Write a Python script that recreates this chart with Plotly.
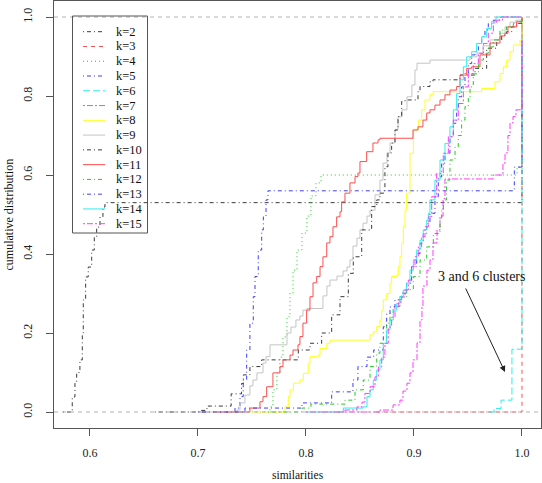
import plotly.graph_objects as go

# ---------------- data ----------------
k2_x = [0.575, 0.5836, 0.5861, 0.5877, 0.5907, 0.5929, 0.5938, 0.5960, 0.5984, 0.6016, 0.6040, 0.6062, 0.6093, 0.6120, 0.6139, 1.0]
k2_y = [0.0, 0.038, 0.073, 0.100, 0.132, 0.200, 0.284, 0.342, 0.367, 0.410, 0.443, 0.468, 0.494, 0.519, 0.530, 1.0]

k3_x = [0.865, 1.0]
k3_y = [0.0, 1.0]

k4_x = [0.735, 0.7667, 0.7694, 0.7731, 0.7759, 0.7787, 0.7824, 0.7852, 0.7880, 0.7917, 0.7963, 0.8009, 0.8046, 0.8093, 0.8139, 0.9954, 1.0]
k4_y = [0.0, 0.013, 0.056, 0.099, 0.139, 0.190, 0.241, 0.301, 0.359, 0.410, 0.453, 0.496, 0.547, 0.580, 0.600, 0.620, 1.0]

k5_x = [0.700, 0.7343, 0.7389, 0.7419, 0.7451, 0.7481, 0.7512, 0.7528, 0.7558, 0.7590, 0.7605, 0.7630, 0.7648, 0.9929, 1.0]
k5_y = [0.0, 0.010, 0.039, 0.081, 0.157, 0.225, 0.292, 0.343, 0.410, 0.461, 0.494, 0.537, 0.560, 0.620, 1.0]

k6_x = [0.970, 0.9741, 0.9806, 0.9907, 1.0]
k6_y = [0.0, 0.009, 0.030, 0.159, 1.0]

k7_x = [0.825, 0.8685, 0.8806, 0.8870, 0.8898, 0.8935, 0.8963, 0.8991, 0.9028, 0.9056, 0.9074, 0.9083, 0.9120, 0.9148, 0.9176, 0.9213, 0.9241, 0.9269, 0.9287, 0.9731, 0.9824, 0.9843, 0.9870, 0.9889, 0.9917, 0.9944, 1.0]
k7_y = [0.0, 0.005, 0.018, 0.030, 0.053, 0.073, 0.099, 0.132, 0.175, 0.233, 0.268, 0.319, 0.359, 0.385, 0.428, 0.461, 0.496, 0.540, 0.590, 0.600, 0.630, 0.656, 0.700, 0.732, 0.748, 0.765, 1.0]

k8_x = [0.750, 0.7806, 0.7836, 0.7852, 0.7883, 0.7944, 0.7975, 0.8021, 0.8037, 0.8114, 0.8130, 0.8192, 0.8222, 0.8593, 0.8623, 0.8655, 0.8685, 0.8701, 0.8716, 0.8747, 0.8778, 0.8793, 0.8840, 0.8855, 0.8870, 0.8886, 0.8901, 0.8917, 0.8932, 0.8963, 0.8994, 0.9040, 0.9071, 0.9102, 0.9148, 0.9179, 0.9627, 0.9750, 0.9796, 0.9827, 0.9858, 0.9889, 0.9920, 0.9981, 1.0]
k8_y = [0.0, 0.013, 0.039, 0.056, 0.073, 0.081, 0.098, 0.123, 0.140, 0.144, 0.161, 0.174, 0.182, 0.195, 0.203, 0.216, 0.233, 0.258, 0.284, 0.300, 0.326, 0.343, 0.347, 0.368, 0.393, 0.427, 0.469, 0.511, 0.554, 0.655, 0.714, 0.739, 0.765, 0.790, 0.803, 0.811, 0.819, 0.836, 0.857, 0.874, 0.891, 0.912, 0.929, 0.942, 1.0]

k9_x = [0.700, 0.7361, 0.7389, 0.7435, 0.7481, 0.7509, 0.7546, 0.7602, 0.7630, 0.7667, 0.7824, 0.7861, 0.7907, 0.7944, 0.7972, 0.8009, 0.8157, 0.8194, 0.8222, 0.8287, 0.8343, 0.8380, 0.8407, 0.8435, 0.8472, 0.8500, 0.8528, 0.8565, 0.8593, 0.8639, 0.8685, 0.8713, 0.8750, 0.8778, 0.8824, 0.8852, 0.8889, 0.8935, 0.8981, 0.9009, 0.9028, 0.9148, 0.9519, 0.9583, 0.9639, 0.9704, 0.9796, 0.9843, 0.9889, 0.9944, 1.0]
k9_y = [0.0, 0.005, 0.023, 0.043, 0.066, 0.081, 0.099, 0.124, 0.140, 0.170, 0.200, 0.215, 0.233, 0.243, 0.258, 0.262, 0.294, 0.319, 0.334, 0.344, 0.357, 0.367, 0.385, 0.420, 0.440, 0.461, 0.478, 0.496, 0.511, 0.550, 0.587, 0.630, 0.656, 0.681, 0.714, 0.747, 0.765, 0.798, 0.828, 0.866, 0.883, 0.891, 0.899, 0.909, 0.927, 0.942, 0.959, 0.975, 0.987, 0.992, 1.0]

k10_x = [0.660, 0.7009, 0.7083, 0.7307, 0.7403, 0.7420, 0.7481, 0.7590, 0.7929, 0.8037, 0.8145, 0.8238, 0.8315, 0.8392, 0.8438, 0.8516, 0.8608, 0.8655, 0.8685, 0.8731, 0.8759, 0.8793, 0.8824, 0.8852, 0.8886, 0.8917, 0.9037, 0.9056, 0.9148, 0.9176, 0.9426, 0.9565, 0.9673, 0.9766, 0.9812, 0.9858, 0.9905, 0.9951, 1.0]
k10_y = [0.0, 0.004, 0.015, 0.046, 0.072, 0.094, 0.115, 0.132, 0.157, 0.174, 0.200, 0.246, 0.292, 0.351, 0.393, 0.461, 0.520, 0.537, 0.554, 0.621, 0.656, 0.681, 0.714, 0.748, 0.786, 0.790, 0.811, 0.824, 0.836, 0.841, 0.853, 0.870, 0.921, 0.942, 0.954, 0.963, 0.975, 0.984, 1.0]

k11_x = [0.715, 0.7481, 0.7574, 0.7602, 0.7636, 0.7694, 0.7759, 0.7787, 0.7852, 0.7880, 0.7926, 0.7944, 0.7972, 0.8006, 0.8037, 0.8065, 0.8099, 0.8130, 0.8157, 0.8192, 0.8222, 0.8250, 0.8284, 0.8315, 0.8330, 0.8361, 0.8407, 0.8454, 0.8481, 0.8500, 0.8562, 0.8620, 0.8667, 0.8685, 0.8991, 0.9037, 0.9083, 0.9118, 0.9148, 0.9194, 0.9241, 0.9287, 0.9333, 0.9395, 0.9426, 0.9488, 0.9534, 0.9611, 0.9704, 0.9796, 0.9843, 0.9870, 0.9950, 1.0]
k11_y = [0.0, 0.010, 0.026, 0.039, 0.064, 0.099, 0.115, 0.132, 0.144, 0.157, 0.170, 0.191, 0.225, 0.258, 0.292, 0.327, 0.343, 0.368, 0.393, 0.428, 0.444, 0.469, 0.494, 0.507, 0.532, 0.554, 0.580, 0.596, 0.605, 0.634, 0.659, 0.681, 0.689, 0.693, 0.714, 0.722, 0.739, 0.757, 0.765, 0.777, 0.790, 0.803, 0.815, 0.824, 0.853, 0.870, 0.874, 0.904, 0.934, 0.952, 0.959, 0.975, 0.988, 1.0]

k12_x = [0.765, 0.7963, 0.8046, 0.8361, 0.8454, 0.8530, 0.8593, 0.8655, 0.8685, 0.8747, 0.8778, 0.8808, 0.8870, 0.8932, 0.8994, 0.9056, 0.9118, 0.9179, 0.9241, 0.9256, 0.9272, 0.9302, 0.9333, 0.9380, 0.9410, 0.9441, 0.9472, 0.9503, 0.9519, 0.9549, 0.9596, 0.9642, 0.9688, 0.9734, 0.9796, 0.9858, 0.9920, 0.9981, 1.0]
k12_y = [0.0, 0.010, 0.020, 0.030, 0.056, 0.081, 0.115, 0.149, 0.174, 0.225, 0.250, 0.267, 0.292, 0.310, 0.343, 0.385, 0.418, 0.452, 0.486, 0.510, 0.537, 0.587, 0.638, 0.671, 0.700, 0.739, 0.773, 0.797, 0.823, 0.856, 0.891, 0.908, 0.924, 0.942, 0.967, 0.975, 0.984, 0.988, 1.0]

k13_x = [0.700, 0.7435, 0.7963, 0.8238, 0.8435, 0.8481, 0.8565, 0.8627, 0.8716, 0.8747, 0.8778, 0.8824, 0.8886, 0.8932, 0.8978, 0.9025, 0.9056, 0.9086, 0.9118, 0.9148, 0.9194, 0.9225, 0.9256, 0.9287, 0.9333, 0.9364, 0.9395, 0.9410, 0.9441, 0.9472, 0.9503, 0.9534, 0.9565, 0.9596, 0.9627, 0.9657, 0.9688, 0.9735, 0.9800, 1.0]
k13_y = [0.0, 0.010, 0.023, 0.051, 0.081, 0.115, 0.139, 0.157, 0.216, 0.249, 0.266, 0.284, 0.301, 0.326, 0.368, 0.401, 0.427, 0.452, 0.477, 0.503, 0.545, 0.595, 0.630, 0.655, 0.697, 0.731, 0.765, 0.798, 0.823, 0.857, 0.882, 0.904, 0.912, 0.933, 0.950, 0.967, 0.984, 0.992, 1.0, 1.0]

k14_x = [0.800, 0.8346, 0.8528, 0.8565, 0.8593, 0.8623, 0.8655, 0.8685, 0.8716, 0.8747, 0.8778, 0.8808, 0.8840, 0.8870, 0.8901, 0.8932, 0.8963, 0.8994, 0.9025, 0.9056, 0.9086, 0.9118, 0.9133, 0.9148, 0.9194, 0.9241, 0.9287, 0.9333, 0.9364, 0.9395, 0.9426, 0.9457, 0.9488, 0.9534, 0.9580, 0.9627, 0.9673, 0.9719, 0.9760, 1.0]
k14_y = [0.0, 0.010, 0.013, 0.039, 0.056, 0.081, 0.106, 0.132, 0.174, 0.208, 0.233, 0.258, 0.275, 0.292, 0.309, 0.326, 0.359, 0.385, 0.410, 0.435, 0.461, 0.486, 0.503, 0.537, 0.587, 0.638, 0.680, 0.722, 0.765, 0.806, 0.841, 0.874, 0.899, 0.912, 0.933, 0.950, 0.971, 0.988, 1.0, 1.0]

k15_x = [0.800, 0.8361, 0.8472, 0.8519, 0.8546, 0.8593, 0.8639, 0.8670, 0.8701, 0.8731, 0.8762, 0.8793, 0.8824, 0.8855, 0.8886, 0.8917, 0.8948, 0.8978, 0.9009, 0.9040, 0.9071, 0.9102, 0.9133, 0.9164, 0.9210, 0.9271, 0.9318, 0.9364, 0.9410, 0.9457, 0.9503, 0.9549, 0.9596, 0.9642, 0.9688, 0.9735, 0.9766, 0.9820, 1.0]
k15_y = [0.0, 0.005, 0.013, 0.025, 0.047, 0.064, 0.089, 0.114, 0.139, 0.174, 0.215, 0.240, 0.266, 0.278, 0.291, 0.309, 0.334, 0.368, 0.393, 0.418, 0.444, 0.469, 0.494, 0.545, 0.604, 0.655, 0.697, 0.739, 0.781, 0.823, 0.857, 0.882, 0.908, 0.933, 0.959, 0.985, 0.992, 1.0, 1.0]

series_names = ["k=2", "k=3", "k=4", "k=5", "k=6", "k=7", "k=8", "k=9",
                "k=10", "k=11", "k=12", "k=13", "k=14", "k=15"]
series_x = [k2_x, k3_x, k4_x, k5_x, k6_x, k7_x, k8_x, k9_x, k10_x, k11_x, k12_x, k13_x, k14_x, k15_x]
series_y = [k2_y, k3_y, k4_y, k5_y, k6_y, k7_y, k8_y, k9_y, k10_y, k11_y, k12_y, k13_y, k14_y, k15_y]

x_ticks = [0.6, 0.7, 0.8, 0.9, 1.0]
y_ticks = [0.0, 0.2, 0.4, 0.6, 0.8, 1.0]

# ---------------- styles ----------------
BLACK, RED, GREEN, BLUE = "#3a3a3a", "#ff4d4d", "#22c822", "#3d3dff"
CYAN, MAGENTA, YELLOW, GRAY = "#2cecec", "#ff3cff", "#ffff1e", "#c4c4c4"
colors = [BLACK, RED, GREEN, BLUE, CYAN, MAGENTA, YELLOW, GRAY,
          BLACK, RED, GREEN, BLUE, CYAN, MAGENTA]
DOTDASH = "1px,3px,4px,3px"
DASHED = "4px,4px"
DOTTED = "1px,3px"
LONGDASH = "7px,3px"
TWODASH = "2px,2px,6px,2px"
dashes = [DOTDASH, DASHED, DOTTED, DOTDASH, LONGDASH, TWODASH, "solid", "solid",
          DOTDASH, "solid", DOTDASH, DOTDASH, "solid", TWODASH]

X0, X1 = 0.5667, 1.0176
Y0, Y1 = -0.0405, 1.0405
PL, PR, PT, PB = 54, 541, 1, 428   # plot box in pixels


def dx(px):
    return X0 + (px - PL) / (PR - PL) * (X1 - X0)


def dy(py):
    return Y0 + (PB - py) / (PB - PT) * (Y1 - Y0)


FONT = "Liberation Serif"

fig = go.Figure()
for name, xs, ys, c, d in zip(series_names, series_x, series_y, colors, dashes):
    fig.add_trace(go.Scatter(
        x=xs, y=ys, mode="lines", name=name, showlegend=False, hoverinfo="skip",
        line=dict(color=c, width=1, dash=d, shape="hv")))

shapes = []
# gray reference lines at 0 and 1
for h in (0.0, 1.0):
    shapes.append(dict(type="line", xref="paper", x0=0, x1=1, yref="y", y0=h, y1=h,
                       line=dict(color="#b3b3b3", width=1, dash="4px,4px"), layer="above"))

# legend box (drawn by hand to match R legend spacing)
shapes.append(dict(type="rect", xref="x", yref="y", x0=dx(72.5), x1=dx(147.5),
                   y0=dy(233), y1=dy(16), line=dict(color="#555555", width=1),
                   fillcolor="rgba(0,0,0,0)", layer="above"))
annotations = []
for i, (name, c, d) in enumerate(zip(series_names, colors, dashes)):
    py = 31.7 + 14.77 * i
    shapes.append(dict(type="line", xref="x", yref="y", x0=dx(83), x1=dx(105),
                       y0=dy(py), y1=dy(py), line=dict(color=c, width=1, dash=d)))
    annotations.append(dict(x=dx(114), y=dy(py), xref="x", yref="y", text=name,
                            showarrow=False, xanchor="left", yanchor="middle",
                            font=dict(family=FONT, size=12.5, color="#111")))

# annotation "3 and 6 clusters" with arrow
annotations.append(dict(x=dx(481), y=dy(276), xref="x", yref="y", text="3 and 6 clusters",
                        showarrow=False, font=dict(family=FONT, size=14, color="#111")))
annotations.append(dict(x=dx(505), y=dy(372), ax=dx(465), ay=dy(287), xref="x", yref="y",
                        axref="x", ayref="y", text="", showarrow=True, arrowhead=2,
                        arrowsize=1.2, arrowwidth=1, arrowcolor="#222", standoff=0))

# axis titles
annotations.append(dict(x=0.5, y=(PB - 475) / (PB - PT), xref="paper", yref="paper",
                        text="similarities", showarrow=False, yanchor="middle",
                        font=dict(family=FONT, size=11.5, color="#111")))
annotations.append(dict(x=(8 - PL) / (PR - PL), y=0.5, xref="paper", yref="paper",
                        text="cumulative distribution", showarrow=False, textangle=-90,
                        xanchor="center", yanchor="middle",
                        font=dict(family=FONT, size=12, color="#111")))

axis_common = dict(showgrid=False, zeroline=False, showline=True, mirror=True,
                   linecolor="#555555", linewidth=1, ticks="outside", ticklen=7,
                   tickcolor="#555555", tickwidth=1, automargin=False,
                   tickfont=dict(family=FONT, size=12, color="#222"))

fig.update_layout(
    width=542, height=483,
    margin=dict(l=PL, r=542 - PR, t=PT, b=483 - PB),
    paper_bgcolor="white", plot_bgcolor="white",
    showlegend=False,
    xaxis=dict(range=[X0, X1], tickvals=x_ticks, tickformat=".1f",
               ticklabelstandoff=7, **axis_common),
    yaxis=dict(range=[Y0, Y1], tickvals=y_ticks, tickformat=".1f", tickangle=-90,
               ticklabelstandoff=9, **axis_common),
    shapes=shapes, annotations=annotations,
)

fig.write_html("out.html", config={"displayModeBar": False},
               post_script="document.body.style.margin='0px';document.body.style.padding='0px';")
